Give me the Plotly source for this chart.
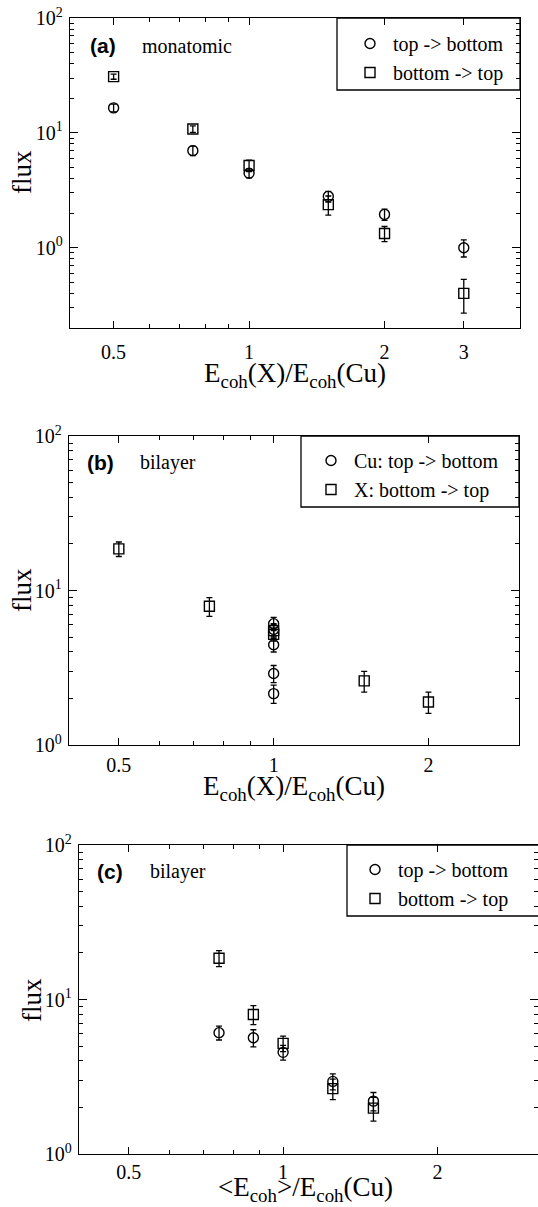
import plotly.graph_objects as go
import math

W, H = 538, 1207

# ---------------- data ----------------
# (a) monatomic
x_a = [0.5, 0.75, 1.0, 1.5, 2.0, 3.0]
circ_a = [16.5, 7.0, 4.45, 2.8, 1.95, 1.0]
circ_a_err = [1.3, 0.65, 0.4, 0.3, 0.22, 0.17]
sq_a = [30.9, 10.8, 5.2, 2.37, 1.33, 0.40]
sq_a_err = [1.6, 0.7, 0.6, 0.45, 0.2, 0.13]

# (b) bilayer
x_b_circ = [1.0, 1.0, 1.0, 1.0, 1.0]
circ_b = [6.1, 5.6, 4.45, 2.9, 2.15]
circ_b_err = [0.6, 0.5, 0.45, 0.37, 0.29]
x_b_sq = [0.5, 0.75, 1.0, 1.0, 1.5, 2.0]
sq_b = [18.6, 7.9, 5.5, 5.2, 2.6, 1.9]
sq_b_err = [2.0, 1.1, 0.5, 0.5, 0.4, 0.3]

# (c) bilayer vs <Ecoh>
x_c = [0.75, 0.875, 1.0, 1.25, 1.5]
circ_c = [6.1, 5.65, 4.55, 2.95, 2.2]
circ_c_err = [0.63, 0.72, 0.5, 0.35, 0.3]
sq_c = [18.5, 8.0, 5.2, 2.65, 1.98]
sq_c_err = [2.2, 1.12, 0.6, 0.4, 0.35]

x_major_a = [0.5, 1, 2, 3]
x_major_bc = [0.5, 1, 2]
x_minor = [0.6, 0.7, 0.8, 0.9]
y_major = [1, 10, 100]
y_major_text = ["10<sup>0</sup>", "10<sup>1</sup>", "10<sup>2</sup>"]
y_minor_a = [0.2, 0.3, 0.4, 0.5, 0.6, 0.7, 0.8, 0.9, 2, 3, 4, 5, 6, 7, 8, 9, 20, 30, 40, 50, 60, 70, 80, 90]
y_minor_bc = [2, 3, 4, 5, 6, 7, 8, 9, 20, 30, 40, 50, 60, 70, 80, 90]

legend_a = ["top -> bottom", "bottom -> top"]
legend_b = ["Cu: top -> bottom", "X: bottom -> top"]
legend_c = ["top -> bottom", "bottom -> top"]

SERIF = "Liberation Serif"
SANS = "Liberation Sans"


def px(x):
    return x / W


def py(y):
    return 1 - y / H


fig = go.Figure()


def add_pair(xc, yc, ec, xs, ys, es, names, xa, ya, leg):
    fig.add_trace(go.Scatter(
        x=xc, y=yc, mode="markers", name=names[0],
        marker=dict(symbol="circle-open", size=10, color="black", line=dict(width=1.4, color="black")),
        error_y=dict(type="data", array=ec, visible=True, color="black", thickness=1.3, width=3),
        xaxis=xa, yaxis=ya, legend=leg))
    fig.add_trace(go.Scatter(
        x=xs, y=ys, mode="markers", name=names[1],
        marker=dict(symbol="square-open", size=10, color="black", line=dict(width=1.4, color="black")),
        error_y=dict(type="data", array=es, visible=True, color="black", thickness=1.3, width=3),
        xaxis=xa, yaxis=ya, legend=leg))


add_pair(x_a, circ_a, circ_a_err, x_a, sq_a, sq_a_err, legend_a, "x", "y", "legend")
add_pair(x_b_circ, circ_b, circ_b_err, x_b_sq, sq_b, sq_b_err, legend_b, "x2", "y2", "legend2")
add_pair(x_c, circ_c, circ_c_err, x_c, sq_c, sq_c_err, legend_c, "x3", "y3", "legend3")


def xaxis(domain, rng, major, anchor, standoff):
    return dict(
        type="log", domain=domain, range=rng, anchor=anchor, automargin=False,
        tickmode="array", tickvals=major, ticktext=[str(v) for v in major],
        ticks="inside", ticklen=7, tickwidth=1.2, tickcolor="black",
        minor=dict(tickmode="array", tickvals=x_minor, ticks="inside", ticklen=4, tickwidth=1.2, tickcolor="black"),
        showline=True, linecolor="black", linewidth=1.3, mirror="ticks",
        showgrid=False, zeroline=False,
        tickfont=dict(family=SERIF, size=20, color="black"),
        ticklabelstandoff=standoff,
    )


def yaxis(domain, rng, minor, anchor):
    return dict(
        type="log", domain=domain, range=rng, anchor=anchor, automargin=False,
        tickmode="array", tickvals=y_major, ticktext=y_major_text,
        ticks="inside", ticklen=8, tickwidth=1.2, tickcolor="black",
        minor=dict(tickmode="array", tickvals=minor, ticks="inside", ticklen=4, tickwidth=1.2, tickcolor="black"),
        showline=True, linecolor="black", linewidth=1.3, mirror="ticks",
        showgrid=False, zeroline=False,
        tickfont=dict(family=SERIF, size=20, color="black"),
        ticklabelstandoff=2,
    )


lg = math.log10

fig.update_layout(
    template="none",
    width=W, height=H,
    margin=dict(l=0, r=0, t=0, b=0, autoexpand=False),
    paper_bgcolor="white", plot_bgcolor="white",
    showlegend=True,
    xaxis=xaxis([px(70), px(520)], [lg(0.4), lg(4.0)], x_major_a, "y", 6),
    yaxis=yaxis([py(328), py(18)], [lg(0.2), 2], y_minor_a, "x"),
    xaxis2=xaxis([px(69), px(519)], [lg(0.4), lg(3.0)], x_major_bc, "y2", 2),
    yaxis2=yaxis([py(745), py(436)], [0, 2], y_minor_bc, "x2"),
    xaxis3=xaxis([px(79), 1.0], [lg(0.4), lg(3.14)], x_major_bc, "y3", 0),
    yaxis3=yaxis([py(1154), py(845)], [0, 2], y_minor_bc, "x3"),
)

leg_common = dict(xanchor="left", yanchor="top", bgcolor="rgba(0,0,0,0)", borderwidth=0,
                  font=dict(family=SERIF, size=20, color="black"), tracegroupgap=0, itemwidth=36)
fig.update_layout(
    legend=dict(x=px(347), y=py(24), **leg_common),
    legend2=dict(x=px(308), y=py(441), **leg_common),
    legend3=dict(x=px(352), y=py(850), **leg_common),
)

# legend boxes
for (x0, x1, y0, y1) in [(337, 520, 18, 90), (301, 519, 436, 507), (347, 540, 845, 916)]:
    fig.add_shape(type="rect", xref="paper", yref="paper",
                  x0=px(x0), x1=px(x1), y0=py(y1), y1=py(y0),
                  line=dict(color="black", width=1.3), fillcolor="rgba(0,0,0,0)")

# panel labels
labels = [("(a)", "monatomic", 46), ("(b)", "bilayer", 462), ("(c)", "bilayer", 871)]
lab_x = [(88, 140), (85, 138), (95, 148)]
for (tag, desc, yc), (xt, xd) in zip(labels, lab_x):
    fig.add_annotation(x=px(xt), y=py(yc), xref="paper", yref="paper", text="<b>" + tag + "</b>",
                       showarrow=False, xanchor="left", yanchor="middle",
                       font=dict(family=SANS, size=21, color="black"))
    fig.add_annotation(x=px(xd), y=py(yc), xref="paper", yref="paper", text=desc,
                       showarrow=False, xanchor="left", yanchor="middle",
                       font=dict(family=SERIF, size=20, color="black"))

# axis titles
xtitles = [("E<sub>coh</sub>(X)/E<sub>coh</sub>(Cu)", 295, 375),
           ("E<sub>coh</sub>(X)/E<sub>coh</sub>(Cu)", 294, 788),
           ("&lt;E<sub>coh</sub>&gt;/E<sub>coh</sub>(Cu)", 305, 1189)]
for t, xc, yc in xtitles:
    fig.add_annotation(x=px(xc), y=py(yc), xref="paper", yref="paper", text=t,
                       showarrow=False, xanchor="center", yanchor="middle",
                       font=dict(family=SERIF, size=27, color="black"))
for xc, yc in [(22, 172), (22, 590), (32, 1000)]:
    fig.add_annotation(x=px(xc), y=py(yc), xref="paper", yref="paper", text="flux",
                       showarrow=False, xanchor="center", yanchor="middle", textangle=-90,
                       font=dict(family=SERIF, size=27, color="black"))

fig.write_html("out.html", post_script="document.body.style.margin='0px';",
               config={"displayModeBar": False})
